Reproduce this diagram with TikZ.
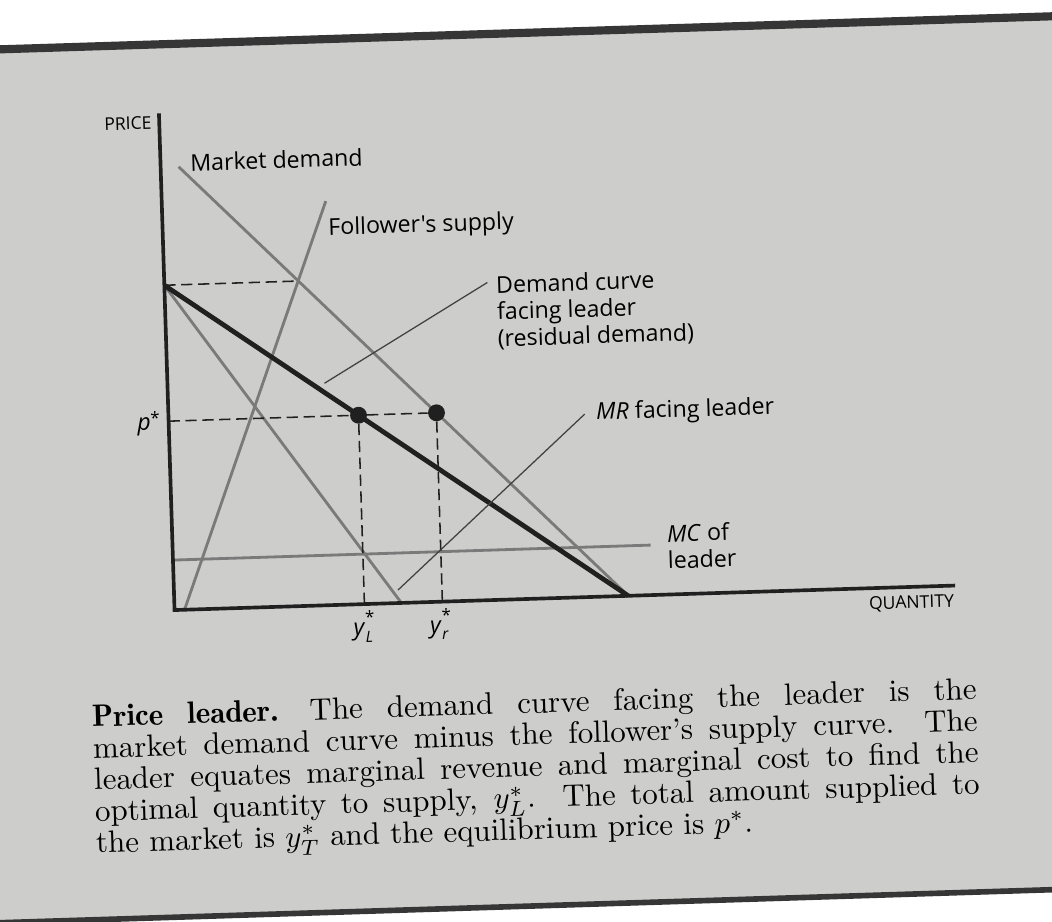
\documentclass[tikz,border=0pt]{standalone}
\usepackage{fontspec}
\newfontfamily\figfont{Open Sans}
\newfontfamily\demifont{lmromandemi10-regular.otf}
\definecolor{paper}{RGB}{205,205,203}
\definecolor{curvegray}{RGB}{122,122,122}
\definecolor{ink}{RGB}{32,32,32}
\newcommand{\ystar}[1]{\textit{y}\rlap{\raisebox{0.95ex}{\fontsize{12}{12}\selectfont *}}\raisebox{-0.55ex}{\fontsize{11}{11}\selectfont\itshape #1}}
\newcommand{\pstar}{\textit{p}\raisebox{0.5ex}{\fontsize{12}{12}\selectfont *}}

\begin{document}
\begin{tikzpicture}[x=0.025cm,y=-0.025cm,
  lbl/.style={font=\figfont\fontsize{16.5}{19}\selectfont,inner sep=1pt},
  caps/.style={font=\figfont\fontsize{12.5}{13}\selectfont,inner sep=1pt},
  axis/.style={line width=2.6pt,draw=ink},
  curve/.style={line width=2pt,draw=curvegray},
  guide/.style={line width=1.1pt,draw=ink,dash pattern=on 8pt off 4pt},
  leader/.style={line width=0.9pt,draw=ink!85},
  dot/.style={circle,fill=ink,minimum size=12pt,inner sep=0pt}]
\useasboundingbox (0,0) rectangle (1052,921);
\fill[white] (0,0) rectangle (1052,921);
\begin{scope}[rotate around={1.8:(526,460)},transform shape]
\fill[paper] (-120,33) rectangle (1180,906);
\draw[line width=5.8pt,draw=ink!90] (-120,33) -- (1180,33);
\draw[line width=4pt,draw=ink!90] (-120,906) -- (1180,906);

\coordinate (O) at (170,599);
\coordinate (yTop) at (170,102);
\coordinate (xEnd) at (951,599);
\coordinate (mdTop) at (188,156);
\coordinate (mdEnd) at (624,599);
\coordinate (fsBot) at (180,599);
\coordinate (fsTop) at (334,195);
\coordinate (resTop) at (170,274);
\coordinate (kink) at (304,274);
\coordinate (mrEnd) at (397,599);
\coordinate (mcStart) at (170,549);
\coordinate (mcEnd) at (648,549);
\coordinate (pAxis) at (170,410);
\coordinate (resTip) at (327,377);
\coordinate (mrTip) at (394,586);

\draw[curve] (mcStart) -- (mcEnd);
\draw[curve] (mdTop) -- (mdEnd);
\draw[curve] (fsBot) -- (fsTop);
\draw[curve] (resTop) -- (mrEnd);
\draw[guide] (resTop) -- (kink);
\draw[line width=3.4pt,draw=ink] (resTop) -- (mdEnd);

\node[dot] (eqL) at (360,410) {};
\node[dot] (eqT) at (438,410) {};
\draw[guide] (pAxis) -- (eqL);
\draw[guide] (eqL) -- (eqT);
\draw[guide] (eqL) -- (eqL |- O);
\draw[guide] (eqT) -- (eqT |- O);

\draw[axis] (yTop) -- (O) -- (xEnd);

\node[caps,anchor=east] (price) at (164,111) {PRICE};
\node[caps,anchor=north east] (qty) at (951,606) {QUANTITY};
\node[lbl] (mdLabel) at (286,152) {Market demand};
\node[lbl,anchor=west] (fsLabel) at (334,223) {Follower's supply};
\node[lbl,anchor=west,align=left] (resLabel) at (500,312) {Demand curve\\facing leader\\(residual demand)};
\node[lbl,anchor=west] (mrLabel) at (596,416) {\textit{MR} facing leader};
\node[lbl,anchor=west,align=left] (mcLabel) at (663,551) {\textit{MC} of\\leader};
\node[lbl,anchor=east] (pLabel) at (163,412) {\pstar};
\node[lbl,anchor=north] (yL) at (358,604) {\ystar{L}};
\node[lbl,anchor=north] (yT) at (434,604) {\ystar{r}};

\draw[leader] ([xshift=-5pt,yshift=-6pt]resLabel.north west) -- (resTip);
\draw[leader] ([xshift=-7pt]mrLabel.west) -- (mrTip);

\node[anchor=north west,inner sep=0pt] (caption) at (84,691)
  {\scalebox{2.2}{\parbox[t]{286pt}{\fontsize{10}{10.2}\selectfont
  {\demifont Price leader.}\quad The demand curve facing the leader is the\linebreak
  market demand curve minus the follower's supply curve. The\linebreak
  leader equates marginal revenue and marginal cost to find the\linebreak
  optimal quantity to supply, $y_L^*$. The total amount supplied to\linebreak
  the market is $y_T^*$ and the equilibrium price is $p^*$.}}};
\end{scope}
\end{tikzpicture}
\end{document}
